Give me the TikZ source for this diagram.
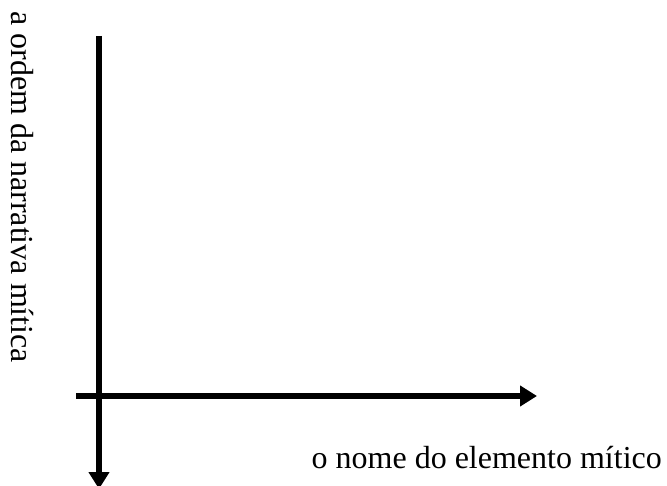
\documentclass[tikz,border=0pt]{standalone}
\usepackage{fontspec}
\setmainfont{Liberation Serif}
\usetikzlibrary{arrows.meta}
\begin{document}
\begin{tikzpicture}[x=1pt,y=-1pt,
  axis/.style={line width=6pt,-{Triangle[width=20pt,length=17pt]}},
  lbl/.style={inner sep=0pt,font=\fontsize{32}{38}\selectfont}]
\useasboundingbox (0,0) rectangle (667,486);
\coordinate (ytop) at (99,36);
\coordinate (ybot) at (99,489);
\coordinate (xleft) at (76,396);
\coordinate (xright) at (537,396);
\draw[axis] (ytop) -- (ybot);
\draw[axis] (xleft) -- (xright);
\node[lbl,anchor=base east] (xlabel) at (662,468) {o nome do elemento mítico};
\node[lbl,rotate=-90,anchor=base west] (ylabel) at (12,11) {a ordem da narrativa mítica};
\end{tikzpicture}
\end{document}
